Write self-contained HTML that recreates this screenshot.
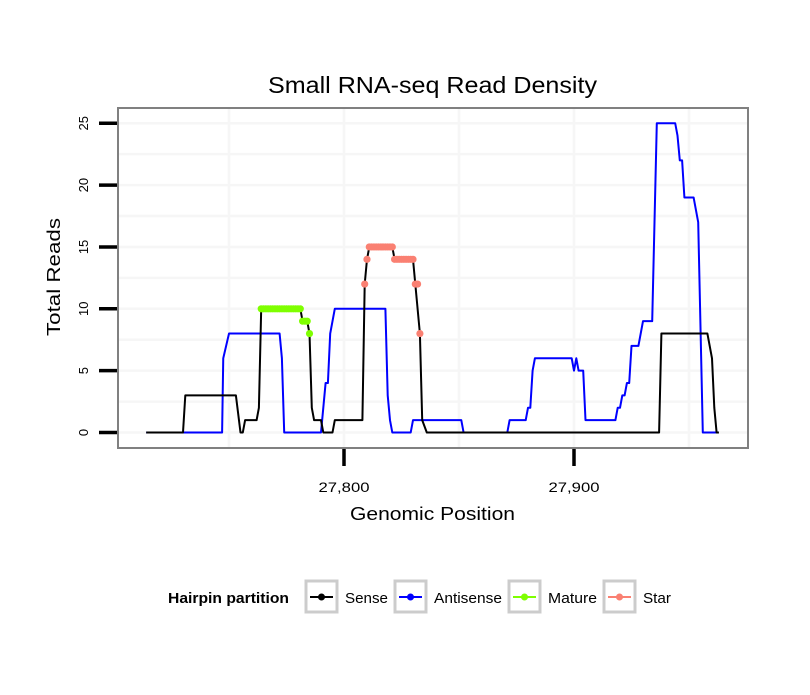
<!DOCTYPE html>
<html><head><meta charset="utf-8"><style>
body{margin:0;background:#fff;}
svg text{font-family:"Liberation Sans",sans-serif;}
</style></head><body>
<svg id="chart" width="810" height="690" xmlns="http://www.w3.org/2000/svg">
<rect width="810" height="690" fill="#fff"/>
<text x="268" y="93" font-size="23" textLength="329" lengthAdjust="spacingAndGlyphs">Small RNA-seq Read Density</text>
<g id="grid"></g>
<g id="series"></g>
<rect x="118" y="108" width="630" height="340" fill="none" stroke="#808080" stroke-width="2"/>
<g id="axes"></g>
<text x="350" y="520" font-size="18" textLength="165" lengthAdjust="spacingAndGlyphs">Genomic Position</text>
<text transform="translate(60,336) rotate(-90)" font-size="18" textLength="118" lengthAdjust="spacingAndGlyphs">Total Reads</text>
<g>
<text x="168" y="603" font-size="15" font-weight="bold" textLength="121" lengthAdjust="spacingAndGlyphs">Hairpin partition</text>
<g><rect x="306" y="581" width="31" height="31" fill="#fff" stroke="#ccc" stroke-width="3"/><line x1="310" y1="597" x2="333" y2="597" stroke="#000" stroke-width="2"/><circle cx="321.5" cy="597" r="3.5" fill="#000"/><text x="345" y="603" font-size="15" textLength="43" lengthAdjust="spacingAndGlyphs">Sense</text></g>
<g><rect x="395" y="581" width="31" height="31" fill="#fff" stroke="#ccc" stroke-width="3"/><line x1="399" y1="597" x2="422" y2="597" stroke="#00f" stroke-width="2"/><circle cx="410.5" cy="597" r="3.5" fill="#00f"/><text x="434" y="603" font-size="15" textLength="68" lengthAdjust="spacingAndGlyphs">Antisense</text></g>
<g><rect x="509" y="581" width="31" height="31" fill="#fff" stroke="#ccc" stroke-width="3"/><line x1="513" y1="597" x2="536" y2="597" stroke="#7fff00" stroke-width="2"/><circle cx="524.5" cy="597" r="3.5" fill="#7fff00"/><text x="548" y="603" font-size="15" textLength="49" lengthAdjust="spacingAndGlyphs">Mature</text></g>
<g><rect x="604" y="581" width="31" height="31" fill="#fff" stroke="#ccc" stroke-width="3"/><line x1="608" y1="597" x2="631" y2="597" stroke="#fa8072" stroke-width="2"/><circle cx="619.5" cy="597" r="3.5" fill="#fa8072"/><text x="643" y="603" font-size="15" textLength="28" lengthAdjust="spacingAndGlyphs">Star</text></g>
</g>
</svg>
<script>
const xTicks=[27800,27900];
const xTickLabels=["27,800","27,900"];
const yTicks=[0,5,10,15,20,25];
const senseX=[27714,27730,27731,27753,27755,27756,27757,27762,27763,27764,27781,27782,27784,27785,27786,27787,27790,27791,27795,27796,27808,27809,27810,27811,27821,27822,27830,27831,27833,27834,27836,27937,27938,27958,27960,27961,27962,27963];
const senseY=[0,0,3,3,0,0,1,1,2,10,10,9,9,8,2,1,1,0,0,1,1,12,14,15,15,14,14,12,8,1,0,0,8,8,6,2,0,0];
const antiX=[27714,27747,27747.5,27750,27772,27773,27774,27790,27792,27793,27794,27796,27818,27819,27820,27821,27829,27830,27851,27852,27871,27872,27879,27880,27881,27882,27883,27899,27900,27901,27902,27904,27905,27918,27919,27920,27921,27922,27923,27924,27925,27928,27930,27934,27936,27944,27945,27946,27947,27948,27952,27954,27956,27962];
const antiY=[0,0,6,8,8,6,0,0,4,4,8,10,10,3,1,0,0,1,1,0,0,1,1,2,2,5,6,6,5,6,5,5,1,1,2,2,3,3,4,4,7,7,9,9,25,25,24,22,22,19,19,17,0,0];
const matureX=[27764,27765,27766,27767,27768,27769,27770,27771,27772,27773,27774,27775,27776,27777,27778,27779,27780,27781,27782,27783,27784,27785];
const matureY=[10,10,10,10,10,10,10,10,10,10,10,10,10,10,10,10,10,10,9,9,9,8];
const starX=[27809,27810,27811,27812,27813,27814,27815,27816,27817,27818,27819,27820,27821,27822,27823,27824,27825,27826,27827,27828,27829,27830,27831,27832,27833];
const starY=[12,14,15,15,15,15,15,15,15,15,15,15,15,14,14,14,14,14,14,14,14,14,12,12,8];

const NS="http://www.w3.org/2000/svg";
function sx(v){return 344+(v-27800)*2.3;}
function sy(v){return 432.5-v*12.37;}
function mk(tag,attrs,parent){const e=document.createElementNS(NS,tag);for(const k in attrs)e.setAttribute(k,attrs[k]);parent.appendChild(e);return e;}
const grid=document.getElementById('grid'),axes=document.getElementById('axes'),series=document.getElementById('series');
[27750,27800,27850,27900,27950].forEach(v=>{const l=mk('line',{x1:sx(v),x2:sx(v),y1:109,y2:447,stroke:'#f6f6f6','stroke-width':2.5},grid);

});
[0,2.5,5,7.5,10,12.5,15,17.5,20,22.5,25].forEach(v=>{const l=mk('line',{x1:119,x2:747,y1:sy(v),y2:sy(v),stroke:'#f6f6f6','stroke-width':2.5},grid);

});
yTicks.forEach(v=>{const t=mk('line',{x1:99,x2:117,y1:sy(v),y2:sy(v),stroke:'#000','stroke-width':3.5},axes);


const tx=mk('text',{transform:`translate(88,${sy(v)}) rotate(-90)`,'font-size':13,'text-anchor':'middle'},axes);tx.textContent=v;

});
xTicks.forEach((v,i)=>{const t=mk('line',{x1:sx(v),x2:sx(v),y1:449,y2:466,stroke:'#000','stroke-width':3.5},axes);


const tx=mk('text',{x:sx(v)-25.5,y:492,'font-size':14,textLength:51,lengthAdjust:'spacingAndGlyphs'},axes);tx.textContent=xTickLabels[i];

});
function line(xs,ys,color,name){const p=mk('polyline',{points:xs.map((x,i)=>sx(x)+','+sy(ys[i])).join(' '),fill:'none',stroke:color,'stroke-width':2,'stroke-linejoin':'round'},series);

}
function pts(xs,ys,color,name){xs.forEach((x,i)=>{const c=mk('circle',{cx:sx(x),cy:sy(ys[i]),r:3.6,fill:color},series);

});}
line(antiX,antiY,'#0000ff','antisense-line');
line(senseX,senseY,'#000000','sense-line');
pts(matureX,matureY,'#7fff00','mature-point');
pts(starX,starY,'#fa8072','star-point');
</script>
</body></html>
